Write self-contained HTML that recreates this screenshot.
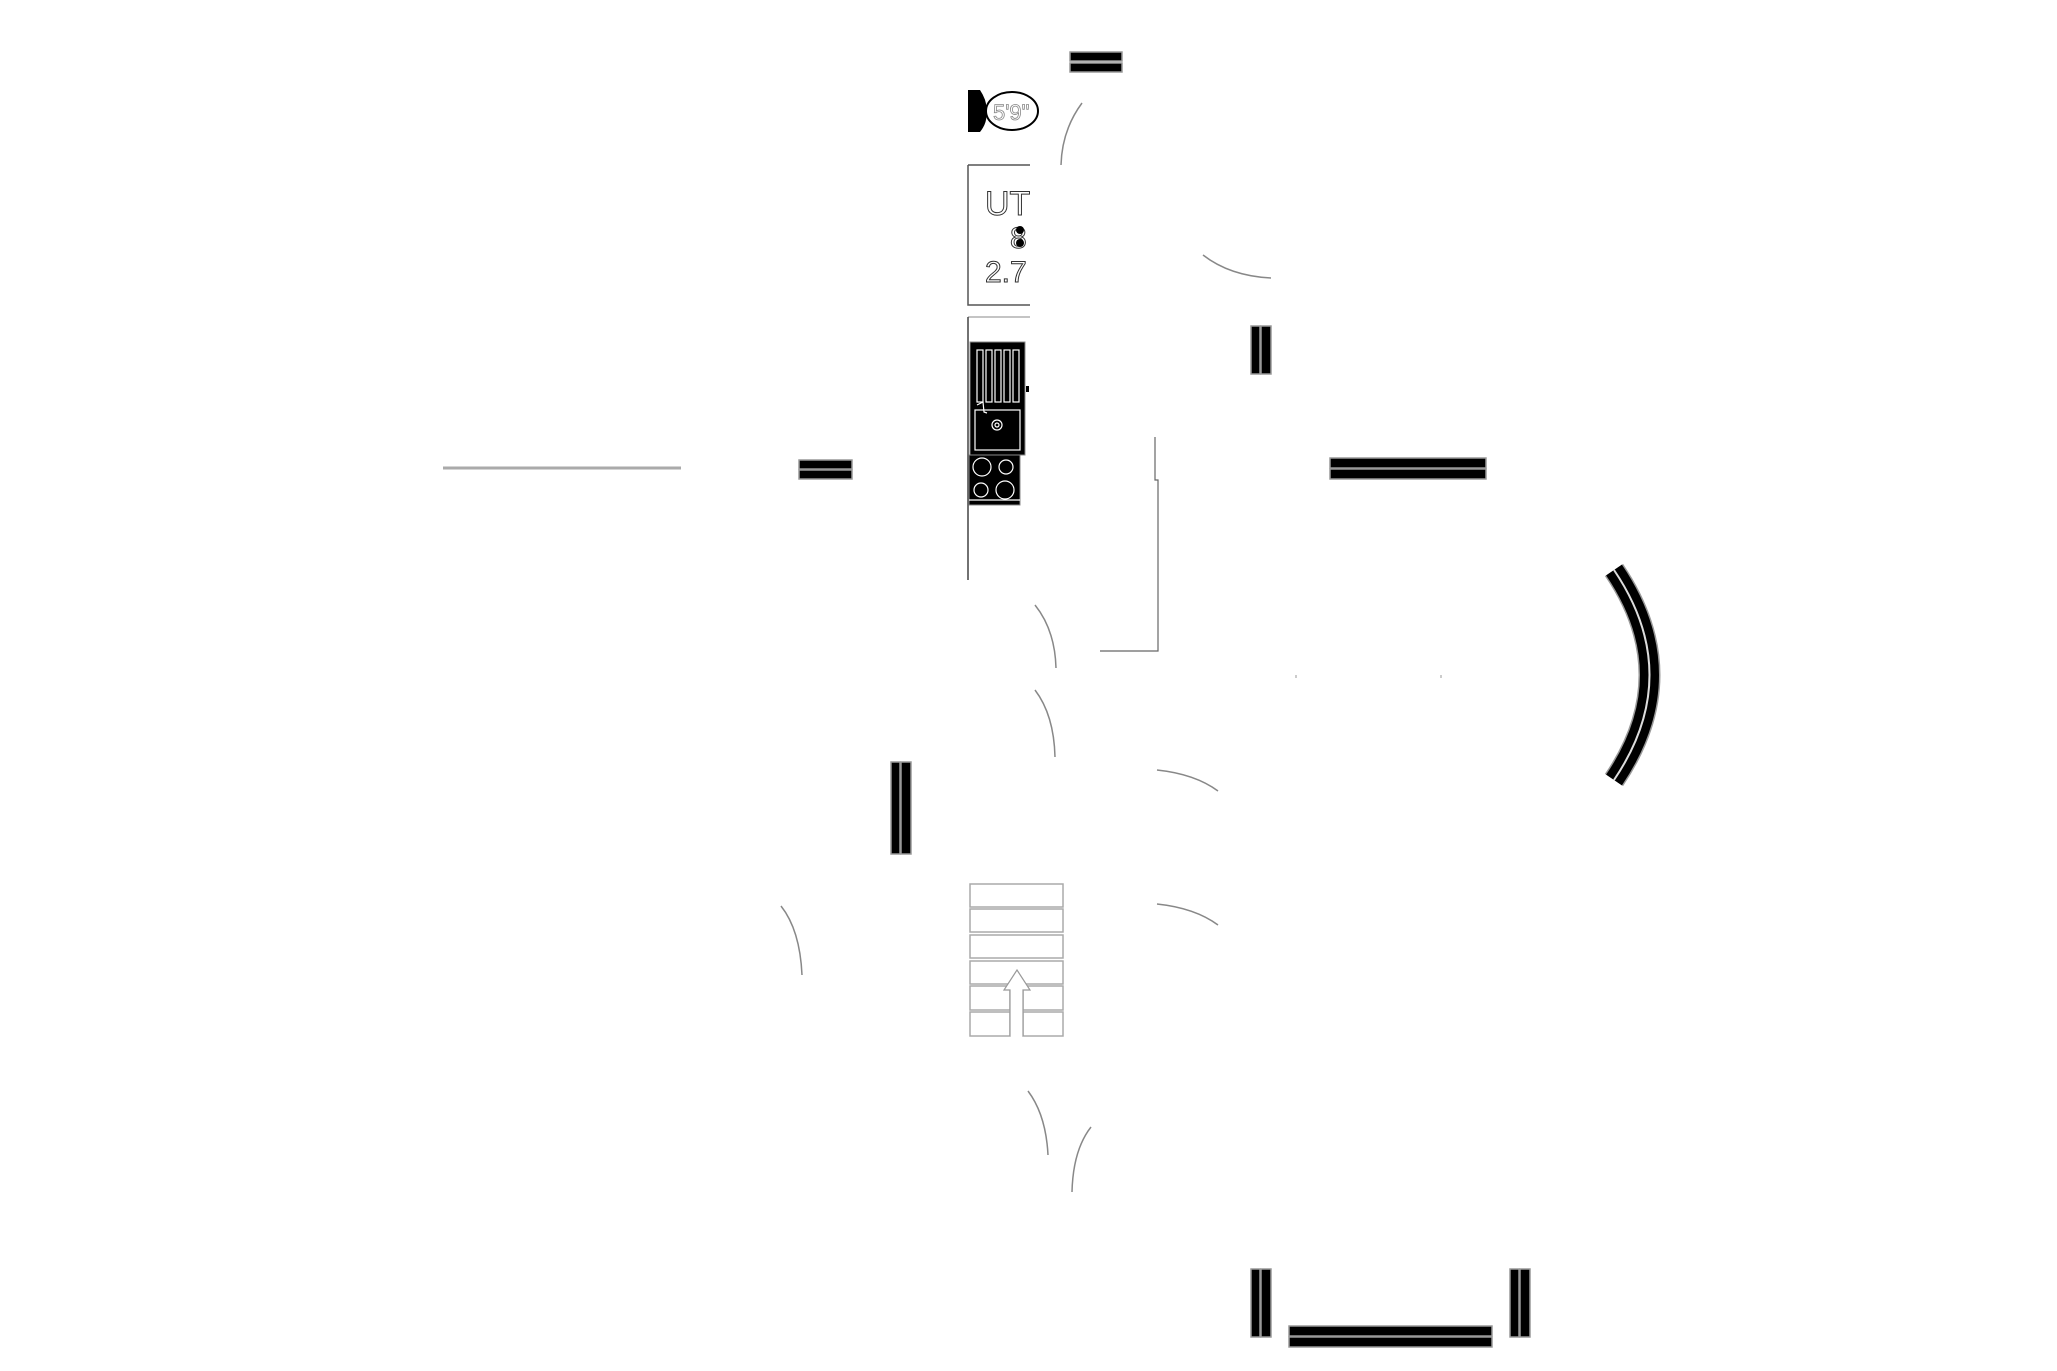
<!DOCTYPE html>
<html><head><meta charset="utf-8"><style>
html,body{margin:0;padding:0;background:#fff;}
svg{display:block;}
</style></head><body>
<svg width="2057" height="1371" viewBox="0 0 2057 1371" xmlns="http://www.w3.org/2000/svg" font-family="Liberation Sans, sans-serif">
<rect width="2057" height="1371" fill="#fff"/>
<g fill="#000" stroke="#999" stroke-width="1.5">
  <!-- double bars horizontal -->
  <rect x="1070" y="52" width="52" height="9"/><rect x="1070" y="63" width="52" height="9"/>
  <rect x="799" y="460" width="53" height="9"/><rect x="799" y="470" width="53" height="9"/>
  <rect x="1330" y="458" width="156" height="10"/><rect x="1330" y="469" width="156" height="10"/>
  <rect x="1289" y="1326" width="203" height="10"/><rect x="1289" y="1337" width="203" height="10"/>
  <!-- vertical -->
  <rect x="1251" y="326" width="9" height="48"/><rect x="1261" y="326" width="10" height="48"/>
  <rect x="891" y="762" width="9" height="92"/><rect x="901" y="762" width="10" height="92"/>
  <rect x="1251" y="1269" width="9" height="68"/><rect x="1261" y="1269" width="10" height="68"/>
  <rect x="1510" y="1269" width="9" height="68"/><rect x="1520" y="1269" width="10" height="68"/>
</g>
<!-- big curved wall -->
<path d="M1614,570 Q1685,675 1614,780" fill="none" stroke="#999" stroke-width="22"/>
<path d="M1614,570 Q1685,675 1614,780" fill="none" stroke="#000" stroke-width="19"/>
<path d="M1614,570 Q1685,675 1614,780" fill="none" stroke="#ddd" stroke-width="2"/>
<!-- gray thin line left -->
<line x1="443" y1="468" x2="681" y2="468" stroke="#aaa" stroke-width="3"/>
<!-- arcs -->
<g fill="none" stroke="#888" stroke-width="1.5">
  <path d="M1082,103 Q1062,130 1061,165"/>
  <path d="M1203,255 Q1230,276 1271,278"/>
  <path d="M1035,605 Q1055,630 1056,668"/>
  <path d="M1035,690 Q1054,715 1055,757"/>
  <path d="M1157,770 Q1195,774 1218,791"/>
  <path d="M1157,904 Q1195,908 1218,925"/>
  <path d="M781,906 Q800,930 802,975"/>
  <path d="M1028,1091 Q1046,1115 1048,1155"/>
  <path d="M1091,1127 Q1073,1150 1072,1192"/>
</g>
<!-- toilet-like -->
<path d="M968,90 L980,90 Q988,102 986,112 Q988,122 980,132 L968,132 Z" fill="#000"/>
<ellipse cx="1012" cy="111" rx="26" ry="19" fill="#fff" stroke="#000" stroke-width="2"/>
<text x="993" y="120" font-size="22" fill="#fff" stroke="#888" stroke-width="0.8">5'9"</text>
<!-- UT box -->
<path d="M968,165 L1030,165 M968,165 L968,305 L1030,305" fill="none" stroke="#555" stroke-width="1.5"/>
<text x="985" y="215" font-size="34" fill="#fff" stroke="#333" stroke-width="1">UT</text>
<text x="1010" y="248" font-size="30" fill="#fff" stroke="#333" stroke-width="1">8</text>
<circle cx="1020" cy="230" r="4" fill="#000"/><circle cx="1020" cy="243" r="4" fill="#000"/>
<text x="985" y="282" font-size="30" fill="#fff" stroke="#333" stroke-width="1">2.7</text>
<!-- kitchen -->
<line x1="968" y1="317" x2="1030" y2="317" stroke="#888" stroke-width="1"/>
<line x1="968" y1="317" x2="968" y2="580" stroke="#444" stroke-width="1.5"/>
<rect x="970" y="342" width="55" height="113" fill="#000" stroke="#888"/>
<g fill="none" stroke="#fff" stroke-width="1.2">
  <rect x="977" y="350" width="6" height="52"/><rect x="986" y="350" width="6" height="52"/>
  <rect x="995" y="350" width="6" height="52"/><rect x="1004" y="350" width="6" height="52"/>
  <rect x="1013" y="350" width="6" height="52"/>
  <rect x="975" y="410" width="45" height="40"/>
  <circle cx="997" cy="425" r="5"/><circle cx="997" cy="425" r="2"/>
  <path d="M977,405 L983,402 L984,412 L987,413"/>
</g>
<rect x="969" y="455" width="51" height="50" fill="#000" stroke="#888"/>
<g fill="none" stroke="#fff" stroke-width="1.2">
  <circle cx="982" cy="467" r="9"/><circle cx="1006" cy="467" r="7"/>
  <circle cx="981" cy="490" r="7"/><circle cx="1005" cy="490" r="9"/>
  <line x1="969" y1="500" x2="1020" y2="500"/>
</g>
<rect x="1026" y="386" width="3" height="6" fill="#000"/>
<!-- partition line -->
<path d="M1155,437 L1155,480 L1158,480 L1158,651 L1100,651" fill="none" stroke="#666" stroke-width="1.2"/>
<!-- stairs -->
<g fill="none" stroke="#aaa" stroke-width="1.5">
  <rect x="970" y="884" width="93" height="23"/>
  <rect x="970" y="909" width="93" height="23"/>
  <rect x="970" y="935" width="93" height="23"/>
  <rect x="970" y="961" width="93" height="23"/>
  <rect x="970" y="986" width="40" height="24"/><rect x="1023" y="986" width="40" height="24"/>
  <rect x="970" y="1012" width="40" height="24"/><rect x="1023" y="1012" width="40" height="24"/>
</g>
<path d="M1010,1036 L1010,990 L1004,990 L1017,970 L1030,990 L1023,990 L1023,1036" fill="#fff" stroke="#999" stroke-width="1.2"/>
<rect x="1295" y="675" width="2" height="3" fill="#ccc"/><rect x="1440" y="675" width="2" height="3" fill="#ccc"/>
</svg>
</body></html>
